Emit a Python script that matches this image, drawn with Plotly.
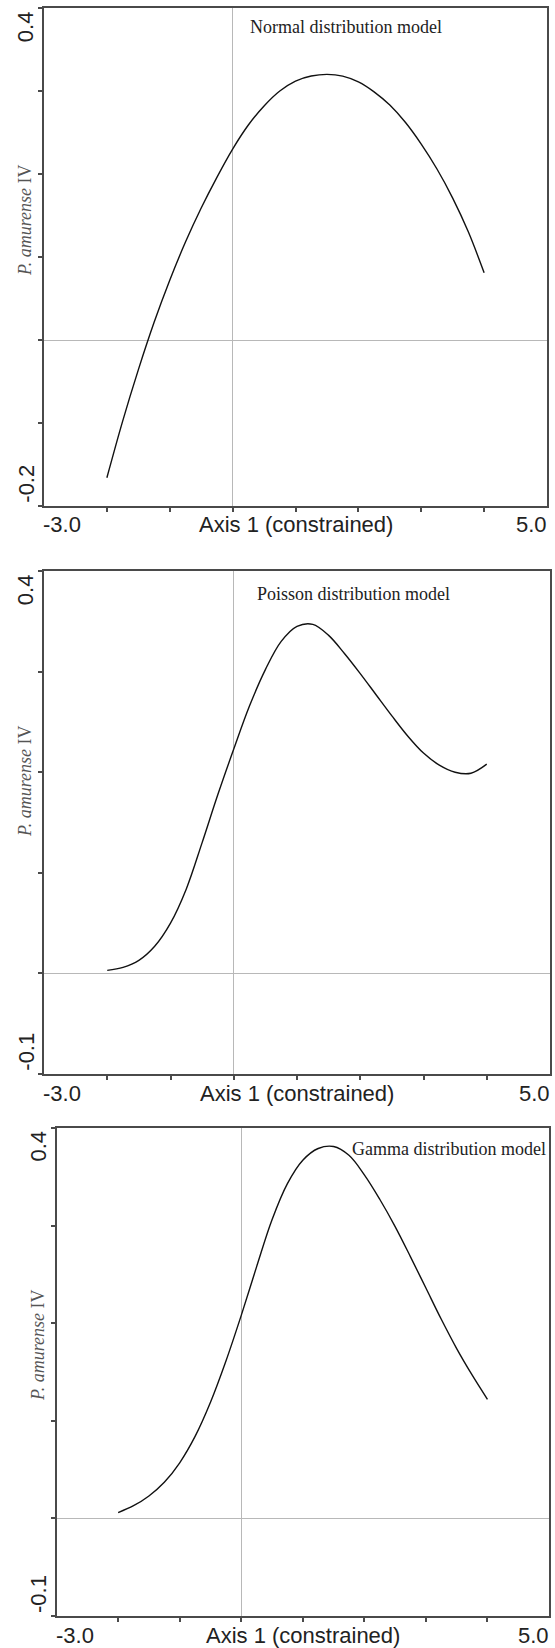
import plotly.graph_objects as go

# ---- data ----
normal_x = [-2.0, -1.75, -1.5, -1.25, -1.0, -0.75, -0.5, -0.25, 0.0, 0.25, 0.5, 0.75, 1.0,
            1.25, 1.5, 1.75, 2.0, 2.25, 2.5, 2.75, 3.0, 3.25, 3.5, 3.75, 4.0]
normal_y = [-0.166, -0.098, -0.036, 0.021, 0.072, 0.118, 0.159, 0.196, 0.230, 0.259, 0.282, 0.300, 0.312,
            0.318, 0.320, 0.318, 0.311, 0.299, 0.283, 0.262, 0.236, 0.206, 0.171, 0.130, 0.081]

poisson_x = [-2.0, -1.75, -1.5, -1.25, -1.0, -0.75, -0.5, -0.25, 0.0, 0.25, 0.5, 0.75, 1.0,
             1.25, 1.5, 1.75, 2.0, 2.25, 2.5, 2.75, 3.0, 3.25, 3.5, 3.75, 4.0]
poisson_y = [0.003, 0.006, 0.013, 0.027, 0.050, 0.084, 0.130, 0.178, 0.223, 0.266, 0.302, 0.330, 0.345,
             0.347, 0.336, 0.318, 0.298, 0.277, 0.256, 0.236, 0.219, 0.207, 0.200, 0.199, 0.208]

gamma_x = [-2.0, -1.75, -1.5, -1.25, -1.0, -0.75, -0.5, -0.25, 0.0, 0.25, 0.5, 0.75, 1.0,
           1.25, 1.5, 1.75, 2.0, 2.25, 2.5, 2.75, 3.0, 3.25, 3.5, 3.75, 4.0]
gamma_y = [0.006, 0.013, 0.023, 0.037, 0.057, 0.084, 0.119, 0.161, 0.208, 0.258, 0.306, 0.343, 0.367,
           0.379, 0.381, 0.372, 0.352, 0.327, 0.299, 0.268, 0.236, 0.204, 0.174, 0.147, 0.122]

panel_titles = ["Normal distribution model", "Poisson distribution model", "Gamma distribution model"]
y_ranges = [[-0.2, 0.4], [-0.1, 0.4], [-0.1, 0.4]]
y_end_labels = [["-0.2", "0.4"], ["-0.1", "0.4"], ["-0.1", "0.4"]]
x_range = [-3.0, 5.0]
x_end_labels = ["-3.0", "5.0"]
x_title = "Axis 1 (constrained)"
y_title = "<i>P. amurense</i> IV"
x_ticks = [-2, -1, 0, 1, 2, 3, 4]

# ---- layout geometry (pixels) ----
W, H = 555, 1648
frames = [  # left, right, top, bottom
    (44, 547, 8, 506),
    (44, 550, 571, 1074),
    (56.6, 549, 1128, 1616),
]
title_pos = [(248, 27), (255, 594), (350, 1149)]
ytitle_pos = [(25, 220), (25, 781), (38, 1345)]
ylab_x = [25.7, 25.7, 38]

def px(x):
    return x / W

def py(y):
    return 1 - y / H

SANS = "Liberation Sans, Arial, sans-serif"
SERIF = "Liberation Serif, Times New Roman, serif"
FRAME = "#4a4a4a"

fig = go.Figure()
series = [(normal_x, normal_y), (poisson_x, poisson_y), (gamma_x, gamma_y)]

annotations = []
for i, ((xs, ys), (l, r, t, b)) in enumerate(zip(series, frames)):
    k = "" if i == 0 else str(i + 1)
    fig.add_trace(go.Scatter(
        x=xs, y=ys, mode="lines", line=dict(color="#111111", width=1.4, shape="spline", smoothing=1.0),
        xaxis="x" + k, yaxis="y" + k, showlegend=False, hoverinfo="skip"))
    yr = y_ranges[i]
    yt = [round(yr[0] + 0.1 * j, 2) for j in range(int(round((yr[1] - yr[0]) / 0.1)) + 1)]
    fig.update_layout(**{
        "xaxis" + k: dict(domain=[px(l), px(r)], range=x_range, anchor="y" + k,
                          showgrid=False, zeroline=True, zerolinecolor="#b8b8b8", zerolinewidth=1,
                          showline=True, mirror=True, linecolor=FRAME, linewidth=2,
                          ticks="outside", ticklen=4, tickwidth=1.5, tickcolor=FRAME,
                          tickvals=x_ticks, showticklabels=False, fixedrange=True),
        "yaxis" + k: dict(domain=[py(b), py(t)], range=yr, anchor="x" + k,
                          showgrid=False, zeroline=True, zerolinecolor="#b8b8b8", zerolinewidth=1,
                          showline=True, mirror=True, linecolor=FRAME, linewidth=2,
                          ticks="outside", ticklen=4, tickwidth=1.5, tickcolor=FRAME,
                          tickvals=yt, showticklabels=False, fixedrange=True),
    })
    annotations.append(dict(text=panel_titles[i], xref="paper", yref="paper",
                            x=px(title_pos[i][0]), y=py(title_pos[i][1]),
                            xanchor="left", yanchor="middle", showarrow=False,
                            font=dict(family=SERIF, size=18, color="#222222")))
    annotations.append(dict(text=y_title, xref="paper", yref="paper",
                            x=px(ytitle_pos[i][0]), y=py(ytitle_pos[i][1]),
                            xanchor="center", yanchor="middle", textangle=-90, showarrow=False,
                            font=dict(family=SERIF, size=18, color="#555555")))
    annotations.append(dict(text=y_end_labels[i][1], xref="paper", yref="paper",
                            x=px(ylab_x[i]), y=py(t + 1), xanchor="center", yanchor="top",
                            textangle=-90, showarrow=False,
                            font=dict(family=SANS, size=22, color="#222222")))
    annotations.append(dict(text=y_end_labels[i][0], xref="paper", yref="paper",
                            x=px(ylab_x[i]), y=py(b - 1), xanchor="center", yanchor="bottom",
                            textangle=-90, showarrow=False,
                            font=dict(family=SANS, size=22, color="#222222")))
    ylab = py(b + 19)
    annotations.append(dict(text=x_end_labels[0], xref="paper", yref="paper",
                            x=px(l - 3), y=ylab, xanchor="left", yanchor="middle", showarrow=False,
                            font=dict(family=SANS, size=22, color="#222222")))
    annotations.append(dict(text=x_end_labels[1], xref="paper", yref="paper",
                            x=px(r + 2), y=ylab, xanchor="right", yanchor="middle", showarrow=False,
                            font=dict(family=SANS, size=22, color="#222222")))
    annotations.append(dict(text=x_title, xref="paper", yref="paper",
                            x=px((l + r) / 2), y=ylab, xanchor="center", yanchor="middle", showarrow=False,
                            font=dict(family=SANS, size=22, color="#222222")))

fig.update_layout(width=W, height=H, autosize=False,
                  margin=dict(l=0, r=0, t=0, b=0, pad=0),
                  paper_bgcolor="white", plot_bgcolor="white",
                  annotations=annotations)

fig.write_html("out.html", config={"displayModeBar": False},
               post_script="document.body.style.margin='0px';document.body.style.overflow='hidden';")
